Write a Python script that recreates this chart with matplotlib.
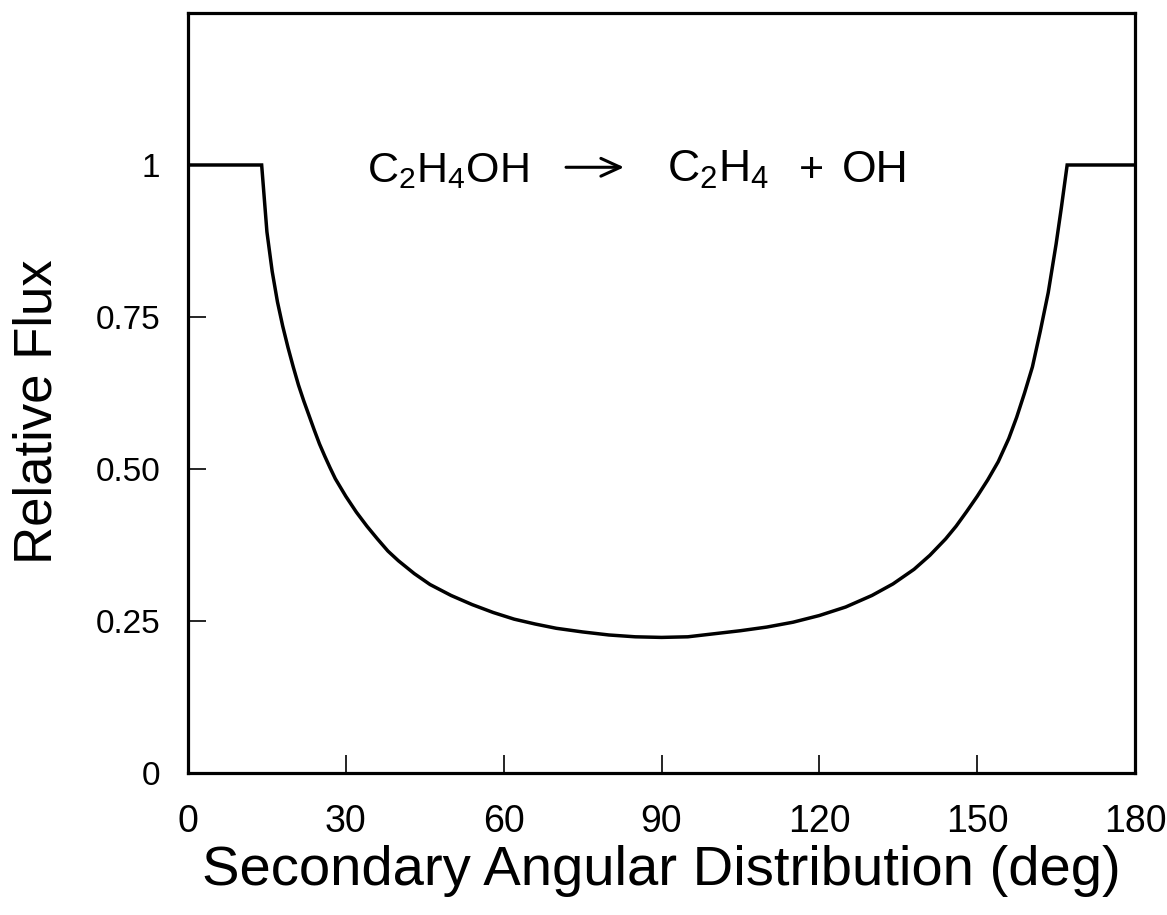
import matplotlib
matplotlib.use("Agg")
import matplotlib.pyplot as plt

plt.rcParams['font.family'] = ['Liberation Sans', 'DejaVu Sans']
plt.rcParams['mathtext.fontset'] = 'custom'
plt.rcParams['mathtext.rm'] = 'Liberation Sans'
plt.rcParams['mathtext.it'] = 'Liberation Sans'

# values
angle = [0, 14.0, 15, 16, 17, 18, 19, 20, 21, 22, 23, 24, 25, 26, 27, 28,
         30, 32, 34, 36, 38, 40, 43, 46, 50, 54, 58, 62, 66, 70, 75, 80,
         85, 90, 95, 100, 105, 110, 115, 120, 125, 130, 134, 138, 141, 144,
         146, 148, 150, 152, 154, 156, 157.5, 159, 160.5, 162, 163.5, 165,
         166, 167.1, 180]
flux = [1.0, 1.0, 0.89, 0.825, 0.775, 0.735, 0.70, 0.668, 0.638, 0.612, 0.588,
        0.564, 0.541, 0.521, 0.502, 0.484,
        0.455, 0.429, 0.406, 0.385, 0.365, 0.349, 0.328, 0.310, 0.292, 0.277,
        0.264, 0.253, 0.245, 0.238, 0.232, 0.227,
        0.224, 0.223, 0.224, 0.229, 0.234, 0.240, 0.248, 0.259, 0.273, 0.292,
        0.311, 0.335, 0.358, 0.385,
        0.406, 0.430, 0.455, 0.482, 0.512, 0.550, 0.585, 0.625, 0.668, 0.727,
        0.790, 0.870, 0.930, 1.0, 1.0]

xticks = [0, 30, 60, 90, 120, 150, 180]
yticks = [0, 0.25, 0.5, 0.75, 1]
ylabels = ['0', '0.25', '0.50', '0.75', '1']

fig = plt.figure(figsize=(11.67, 9.15), dpi=100)
ax = fig.add_axes([0.1611, 0.1552, 0.8115, 0.8306])

ax.plot(angle, flux, color='black', lw=2.5, solid_joinstyle='miter')
ax.set_xlim(0, 180)
ax.set_ylim(0, 1.25)

ax.set_xticks(xticks)
ax.set_xticklabels([str(v) for v in xticks], fontsize=27)
ax.set_yticks(yticks)
ax.set_yticklabels(ylabels, fontsize=24)
ax.tick_params(axis='x', direction='in', length=13, width=1.2, pad=22)
ax.tick_params(axis='y', direction='in', length=13, width=1.2, pad=20)
for s in ax.spines.values():
    s.set_linewidth(2.3)

ax.set_xlabel('Secondary Angular Distribution (deg)', fontsize=40.5, labelpad=4)
ax.set_ylabel('Relative Flux', fontsize=38)
ax.yaxis.set_label_coords(-0.133, 0.476)

# reaction label
fs = 31
ax.text(0.189, 0.7776, r'$\mathrm{C_2H_4OH}$', transform=ax.transAxes,
        fontsize=fs, va='baseline', ha='left')
ax.annotate('', xy=(0.4604, 0.797), xytext=(0.3992, 0.797), xycoords='axes fraction',
            arrowprops=dict(arrowstyle='->,head_length=0.7,head_width=0.32',
                            mutation_scale=20, lw=2.2, color='black',
                            shrinkA=0, shrinkB=0))
ax.text(0.506, 0.7776, r'$\mathrm{C_2H_4}$', transform=ax.transAxes,
        fontsize=fs + 1, va='baseline', ha='left')
ax.text(0.658, 0.7776, '+', transform=ax.transAxes,
        fontsize=fs, va='baseline', ha='center')
ax.text(0.6906, 0.7776, 'OH', transform=ax.transAxes,
        fontsize=fs + 1, va='baseline', ha='left')

fig.savefig('out.png', dpi=100)
